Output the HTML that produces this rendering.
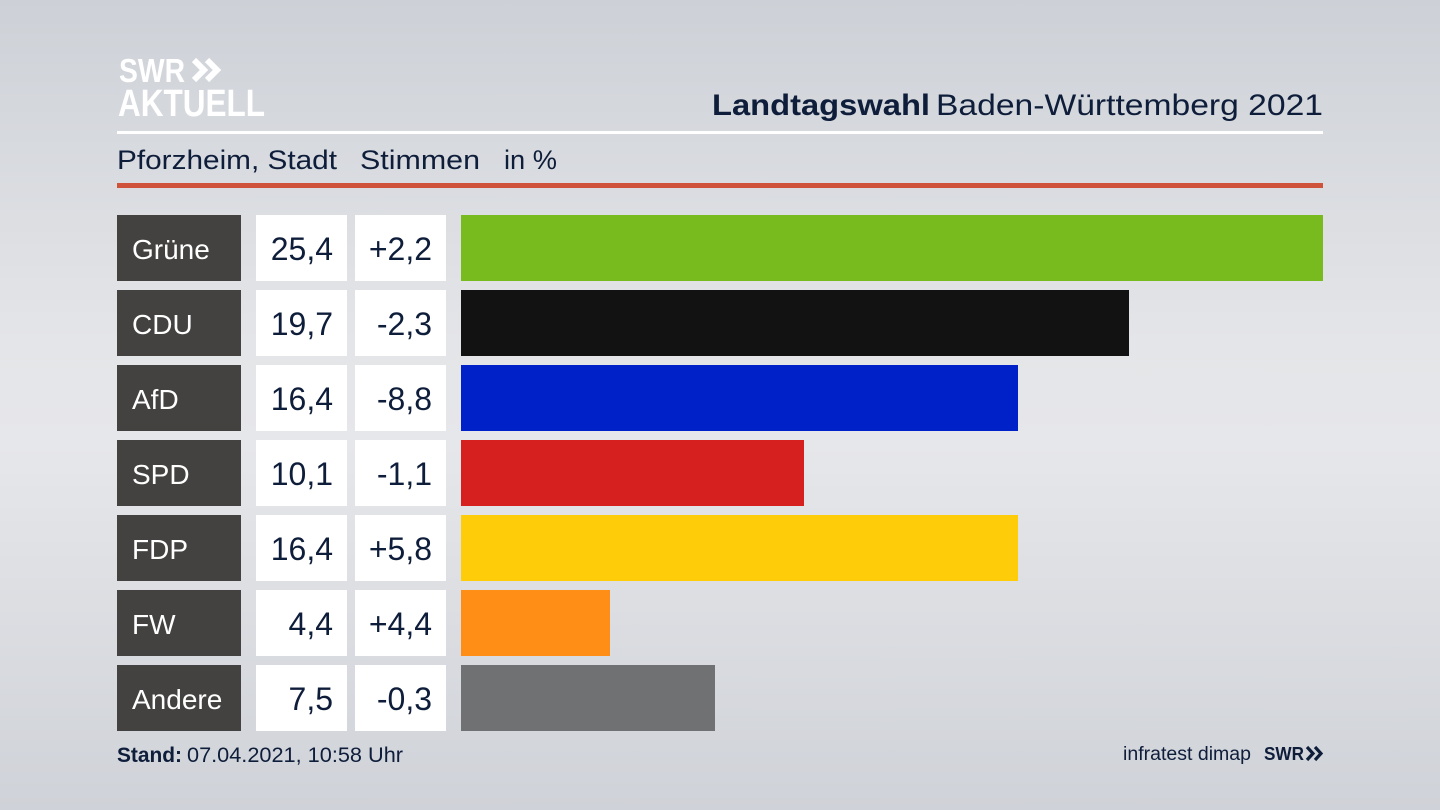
<!DOCTYPE html>
<html><head><meta charset="utf-8"><style>
html,body{margin:0;padding:0;width:1440px;height:810px;overflow:hidden;}
svg{display:block;}
text{font-family:"Liberation Sans",sans-serif;}
</style></head><body>
<svg width="1440" height="810" viewBox="0 0 1440 810" xmlns="http://www.w3.org/2000/svg">
<defs>
<linearGradient id="bg" x1="0" y1="0" x2="0" y2="1">
<stop offset="0" stop-color="#cdd1d7"/>
<stop offset="0.42" stop-color="#e4e5e8"/>
<stop offset="0.55" stop-color="#e6e7ea"/>
<stop offset="1" stop-color="#cfd2d8"/>
</linearGradient>
</defs>
<rect width="1440" height="810" fill="url(#bg)"/>

<!-- logo -->
<text x="119" y="82" font-size="33" font-weight="bold" fill="#ffffff" textLength="66" lengthAdjust="spacingAndGlyphs">SWR</text>
<polyline points="194,60 204,70 194,80" fill="none" stroke="#ffffff" stroke-width="6"/>
<polyline points="207,60 217,70 207,80" fill="none" stroke="#ffffff" stroke-width="6"/>
<text x="118" y="116" font-size="38" font-weight="bold" fill="#ffffff" textLength="147" lengthAdjust="spacingAndGlyphs">AKTUELL</text>

<!-- title -->
<text x="712" y="115" font-size="30" font-weight="bold" fill="#0e1d3a" textLength="218" lengthAdjust="spacingAndGlyphs">Landtagswahl</text>
<text x="936" y="115" font-size="30" fill="#0e1d3a" textLength="387" lengthAdjust="spacingAndGlyphs">Baden-Württemberg 2021</text>
<rect x="117" y="131" width="1206" height="3" fill="#ffffff"/>

<!-- subtitle -->
<text x="117" y="169" font-size="27" fill="#0e1d3a" textLength="220" lengthAdjust="spacingAndGlyphs">Pforzheim, Stadt</text>
<text x="360" y="169" font-size="27" fill="#0e1d3a" textLength="120" lengthAdjust="spacingAndGlyphs">Stimmen</text>
<text x="504" y="169" font-size="27" fill="#0e1d3a" textLength="53" lengthAdjust="spacingAndGlyphs">in %</text>
<rect x="117" y="183" width="1206" height="5" fill="#cf533b"/>

<!-- rows -->
<g font-size="28">
<rect x="117" y="215" width="124" height="66" fill="#434240"/>
<rect x="256" y="215" width="91" height="66" fill="#ffffff"/>
<rect x="355" y="215" width="91" height="66" fill="#ffffff"/>
<rect x="461" y="215" width="862" height="66" fill="#77bb1f"/>
<text x="132" y="259" fill="#ffffff">Grüne</text>
<text x="333" y="260" font-size="32" fill="#0e1d3a" text-anchor="end">25,4</text>
<text x="432" y="260" font-size="32" fill="#0e1d3a" text-anchor="end">+2,2</text>

<rect x="117" y="290" width="124" height="66" fill="#434240"/>
<rect x="256" y="290" width="91" height="66" fill="#ffffff"/>
<rect x="355" y="290" width="91" height="66" fill="#ffffff"/>
<rect x="461" y="290" width="668" height="66" fill="#121212"/>
<text x="132" y="334" fill="#ffffff">CDU</text>
<text x="333" y="335" font-size="32" fill="#0e1d3a" text-anchor="end">19,7</text>
<text x="432" y="335" font-size="32" fill="#0e1d3a" text-anchor="end">-2,3</text>

<rect x="117" y="365" width="124" height="66" fill="#434240"/>
<rect x="256" y="365" width="91" height="66" fill="#ffffff"/>
<rect x="355" y="365" width="91" height="66" fill="#ffffff"/>
<rect x="461" y="365" width="557" height="66" fill="#0020c8"/>
<text x="132" y="409" fill="#ffffff">AfD</text>
<text x="333" y="410" font-size="32" fill="#0e1d3a" text-anchor="end">16,4</text>
<text x="432" y="410" font-size="32" fill="#0e1d3a" text-anchor="end">-8,8</text>

<rect x="117" y="440" width="124" height="66" fill="#434240"/>
<rect x="256" y="440" width="91" height="66" fill="#ffffff"/>
<rect x="355" y="440" width="91" height="66" fill="#ffffff"/>
<rect x="461" y="440" width="343" height="66" fill="#d6201f"/>
<text x="132" y="484" fill="#ffffff">SPD</text>
<text x="333" y="485" font-size="32" fill="#0e1d3a" text-anchor="end">10,1</text>
<text x="432" y="485" font-size="32" fill="#0e1d3a" text-anchor="end">-1,1</text>

<rect x="117" y="515" width="124" height="66" fill="#434240"/>
<rect x="256" y="515" width="91" height="66" fill="#ffffff"/>
<rect x="355" y="515" width="91" height="66" fill="#ffffff"/>
<rect x="461" y="515" width="557" height="66" fill="#ffcc0a"/>
<text x="132" y="559" fill="#ffffff">FDP</text>
<text x="333" y="560" font-size="32" fill="#0e1d3a" text-anchor="end">16,4</text>
<text x="432" y="560" font-size="32" fill="#0e1d3a" text-anchor="end">+5,8</text>

<rect x="117" y="590" width="124" height="66" fill="#434240"/>
<rect x="256" y="590" width="91" height="66" fill="#ffffff"/>
<rect x="355" y="590" width="91" height="66" fill="#ffffff"/>
<rect x="461" y="590" width="149" height="66" fill="#ff8e17"/>
<text x="132" y="634" fill="#ffffff">FW</text>
<text x="333" y="635" font-size="32" fill="#0e1d3a" text-anchor="end">4,4</text>
<text x="432" y="635" font-size="32" fill="#0e1d3a" text-anchor="end">+4,4</text>

<rect x="117" y="665" width="124" height="66" fill="#434240"/>
<rect x="256" y="665" width="91" height="66" fill="#ffffff"/>
<rect x="355" y="665" width="91" height="66" fill="#ffffff"/>
<rect x="461" y="665" width="254" height="66" fill="#707173"/>
<text x="132" y="709" fill="#ffffff">Andere</text>
<text x="333" y="710" font-size="32" fill="#0e1d3a" text-anchor="end">7,5</text>
<text x="432" y="710" font-size="32" fill="#0e1d3a" text-anchor="end">-0,3</text>
</g>

<!-- footer -->
<text x="117" y="762" font-size="21" font-weight="bold" fill="#0e1d3a" textLength="65" lengthAdjust="spacingAndGlyphs">Stand:</text>
<text x="187" y="762" font-size="21" fill="#0e1d3a" textLength="216" lengthAdjust="spacingAndGlyphs">07.04.2021, 10:58 Uhr</text>

<text x="1123" y="760" font-size="19" fill="#0e1d3a" textLength="128" lengthAdjust="spacingAndGlyphs">infratest dimap</text>
<text x="1264" y="760" font-size="18" font-weight="bold" fill="#0e1d3a" textLength="40" lengthAdjust="spacingAndGlyphs">SWR</text>
<polyline points="1307,747 1313,753.5 1307,760" fill="none" stroke="#0e1d3a" stroke-width="3.2"/>
<polyline points="1315,747 1321,753.5 1315,760" fill="none" stroke="#0e1d3a" stroke-width="3.2"/>
</svg>
</body></html>
